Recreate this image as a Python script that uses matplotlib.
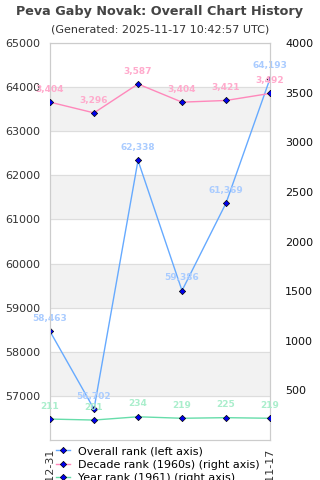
import matplotlib
matplotlib.use("Agg")
import matplotlib.pyplot as plt
from matplotlib.lines import Line2D

dates = ["2020-12-31", "2021-12-31", "2022-12-31", "2023-12-31", "2024-12-31", "2025-11-17"]
overall_rank = [58463, 56702, 62338, 59386, 61369, 64193]
decade_rank = [3404, 3296, 3587, 3404, 3421, 3492]
year_rank = [211, 201, 234, 219, 225, 219]

left_ticks = [57000, 58000, 59000, 60000, 61000, 62000, 63000, 64000, 65000]
right_ticks = [500, 1000, 1500, 2000, 2500, 3000, 3500, 4000]

c_over, c_over_lbl = "#66aaff", "#aaccff"
c_dec, c_dec_lbl = "#ff88bb", "#ffaacc"
c_year, c_year_lbl = "#66ddaa", "#aaeecc"

fig = plt.figure(figsize=(3.2, 4.8), dpi=100)
ax = fig.add_axes([50/320, 1-440/480, 220/320, 397/480])
ax2 = ax.twinx()

x = list(range(len(dates)))
ax.set_xlim(0, len(dates) - 1)
ax.set_ylim(56000, 65000)
ax2.set_ylim(0, 4000)

# alternating bands
for lo in [57000, 59000, 61000, 63000]:
    ax.axhspan(lo, lo + 1000, color="#f2f2f2", zorder=0)
for t in left_ticks:
    ax.axhline(t, color="#dddddd", lw=0.8, zorder=0.5)

mk = dict(marker="D", markersize=3.2, markerfacecolor="#0000ee", markeredgecolor="black", markeredgewidth=0.5)
ax.plot(x, overall_rank, color=c_over, lw=1, zorder=3, **mk)
ax2.plot(x, decade_rank, color=c_dec, lw=1, zorder=3, **mk)
ax2.plot(x, year_rank, color=c_year, lw=1, zorder=3, **mk)

lbl = dict(textcoords="offset points", ha="center", va="bottom", fontsize=6.5, fontweight="bold", annotation_clip=False)
for xi, v in zip(x, overall_rank):
    ax.annotate(f"{v:,}", (xi, v), xytext=(0, 6), color=c_over_lbl, **lbl)
for xi, v in zip(x, decade_rank):
    ax2.annotate(f"{v:,}", (xi, v), xytext=(0, 6), color=c_dec_lbl, **lbl)
for xi, v in zip(x, year_rank):
    ax2.annotate(f"{v:,}", (xi, v), xytext=(0, 6), color=c_year_lbl, **lbl)

ax.set_yticks(left_ticks)
ax.set_yticklabels([str(t) for t in left_ticks])
ax2.set_yticks(right_ticks)
ax2.set_yticklabels([str(t) for t in right_ticks])
ax.tick_params(axis="y", length=0, pad=7, labelsize=8, labelcolor="#333333")
ax2.tick_params(axis="y", length=0, pad=11, labelsize=8, labelcolor="#111111")
ax.set_xticks(x)
ax.set_xticklabels(dates, rotation=90)
ax.tick_params(axis="x", length=0, pad=6, labelsize=8, labelcolor="#333333")

for a in (ax, ax2):
    for s in a.spines.values():
        s.set_color("#cccccc")
        s.set_linewidth(0.8)

fig.text(0.5, 1-12/480, "Peva Gaby Novak: Overall Chart History", ha="center", va="center",
         fontsize=9.2, fontweight="bold", color="#444444")
fig.text(0.5, 1-30/480, "(Generated: 2025-11-17 10:42:57 UTC)", ha="center", va="center",
         fontsize=8, color="#333333")

handles = [
    Line2D([], [], color=c_over, lw=1, **mk),
    Line2D([], [], color=c_dec, lw=1, **mk),
    Line2D([], [], color=c_year, lw=1, **mk),
]
labels = ["Overall rank (left axis)", "Decade rank (1960s) (right axis)", "Year rank (1961) (right axis)"]
fig.legend(handles, labels, loc="upper left", bbox_to_anchor=(54/320, 1-444/480), frameon=True,
           facecolor="white", edgecolor="none", framealpha=1, fontsize=8, handlelength=1.2,
           handletextpad=0.8, labelspacing=0.3, borderpad=0.2, borderaxespad=0)

fig.savefig("out.png", dpi=100)
